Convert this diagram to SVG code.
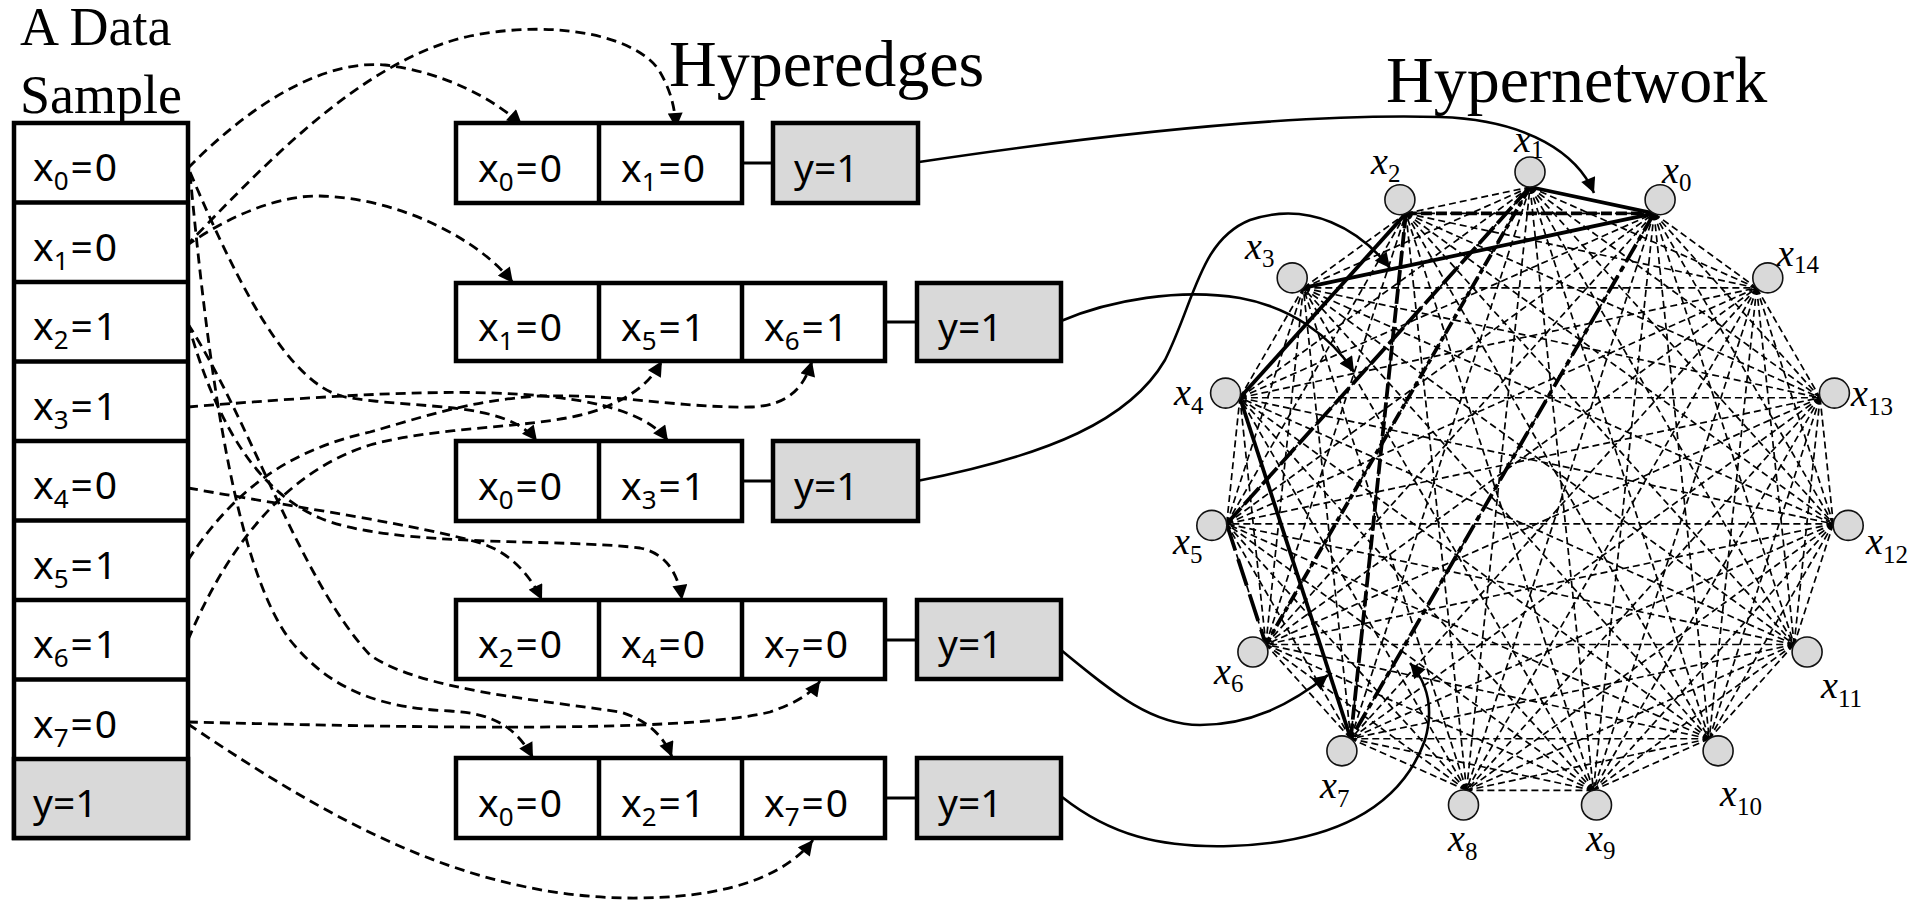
<svg xmlns="http://www.w3.org/2000/svg" xmlns:xlink="http://www.w3.org/1999/xlink" width="1923" height="902" viewBox="0 0 1923 902">
<style>
  .title { font-family: "Liberation Serif", "Times New Roman", serif; fill: #000; }
  .t { font-family: "Noto Sans", "Open Sans", sans-serif; font-size: 39px; fill: #000; }
  .s { font-size: 26px; }
  .box { fill: #fff; stroke: #000; stroke-width: 4.5; }
  .ybox { fill: #d9d9d9; stroke: #000; stroke-width: 4.5; }
  .div { stroke: #000; stroke-width: 4.5; fill: none; }
  .link { stroke: #000; stroke-width: 3; fill: none; }
  .dc { fill: none; stroke: #000; stroke-width: 2.8; stroke-dasharray: 10 6; marker-end: url(#ah); }
  .sc { fill: none; stroke: #000; stroke-width: 2.6; marker-end: url(#ahBig); }
  .edge { fill: none; stroke: #000; stroke-width: 1.7; stroke-dasharray: 7 4; }
  .hb { fill: none; stroke: #000; stroke-width: 3.8; }
  .e1 { stroke-dasharray: 11 4; }
  .e2 { stroke-dasharray: 15 4; }
  .e3 { stroke-dasharray: 20 5 6 5; }
  .b1 { stroke-dasharray: 22 5; }
  .b2 { stroke-dasharray: 13 4 5 4; }
  .b3 { stroke-dasharray: 28 9; }
  .node { fill: #d9d9d9; stroke: #111; stroke-width: 1.6; }
  .nl { font-family: "Liberation Serif", "Times New Roman", serif; font-style: italic; font-size: 38px; fill: #000; }
  .ns { font-style: normal; font-size: 25px; }
</style>
<defs>
  <marker id="ah" viewBox="0 0 10 10" refX="10" refY="5" markerWidth="16" markerHeight="15" markerUnits="userSpaceOnUse" orient="auto">
    <path d="M0,0 L10,5 L0,10 z" fill="#000"/>
  </marker>
  <marker id="ahBig" viewBox="0 0 10 10" refX="10" refY="5" markerWidth="21" markerHeight="15" markerUnits="userSpaceOnUse" orient="auto">
    <path d="M0,0 L10,5 L0,10 z" fill="#000"/>
  </marker>
  <!-- chords from the top vertex to the next seven vertices clockwise; rotated 15 times this covers every pair once -->
  <path id="fan" d="M1530,187 L1654.05,213.37 M1530,187 L1756.66,287.92 M1530,187 L1820.08,397.75 M1530,187 L1833.33,523.88 M1530,187 L1794.14,644.5 M1530,187 L1709.27,738.75 M1530,187 L1593.41,790.34"/>
</defs>

<rect width="1923" height="902" fill="#fff"/>

<!-- headings -->
<text class="title" x="20" y="45" font-size="54">A Data</text>
<text class="title" x="20" y="113" font-size="54">Sample</text>
<text class="title" x="669" y="86" font-size="66">Hyperedges</text>
<text class="title" x="1386" y="102" font-size="66">Hypernetwork</text>

<g id="connectors">
  <!-- complete graph of the hypernetwork -->
  <g id="network-edges" class="edge">
    <use xlink:href="#fan"/>
    <use xlink:href="#fan" transform="rotate(24 1530 492)"/>
    <use xlink:href="#fan" transform="rotate(48 1530 492)"/>
    <use xlink:href="#fan" transform="rotate(72 1530 492)"/>
    <use xlink:href="#fan" transform="rotate(96 1530 492)"/>
    <use xlink:href="#fan" transform="rotate(120 1530 492)"/>
    <use xlink:href="#fan" transform="rotate(144 1530 492)"/>
    <use xlink:href="#fan" transform="rotate(168 1530 492)"/>
    <use xlink:href="#fan" transform="rotate(192 1530 492)"/>
    <use xlink:href="#fan" transform="rotate(216 1530 492)"/>
    <use xlink:href="#fan" transform="rotate(240 1530 492)"/>
    <use xlink:href="#fan" transform="rotate(264 1530 492)"/>
    <use xlink:href="#fan" transform="rotate(288 1530 492)"/>
    <use xlink:href="#fan" transform="rotate(312 1530 492)"/>
    <use xlink:href="#fan" transform="rotate(336 1530 492)"/>
  </g>

  <!-- hyperedges drawn inside the network -->
  <g id="hyperedge-lines">
    <path class="hb" d="M1530,187 L1654.05,213.37"/>
    <path class="hb" d="M1654.05,213.37 L1303.34,287.92"/>
    <path class="hb" d="M1405.95,213.37 L1239.92,397.75"/>
    <path class="hb" d="M1239.92,397.75 L1350.73,738.75"/>
    <path class="hb e1" d="M1405.95,213.37 L1654.05,213.37"/>
    <path class="hb e2" d="M1405.95,213.37 L1350.73,738.75"/>
    <path class="hb e3" d="M1654.05,213.37 L1350.73,738.75"/>
    <path class="hb b1" d="M1530,187 L1226.67,523.88"/>
    <path class="hb b2" d="M1530,187 L1265.86,644.5"/>
    <path class="hb b3" d="M1226.67,523.88 L1265.86,644.5"/>
  </g>

  <!-- sample values copied into hyperedges -->
  <g id="sampling">
    <circle cx="186" cy="246" r="3" fill="#000"/>
    <path class="dc" d="M188,168 C260,95 330,60 385,65 C445,72 495,100 522,125"/>
    <path class="dc" d="M186,246 C260,170 360,60 470,36 C560,18 640,38 660,72 C672,93 675,110 676,128"/>
    <path class="dc" d="M186,246 C230,215 280,195 320,196 C400,198 480,240 513,283"/>
    <path class="dc" d="M190,172 C240,290 290,385 345,397 C420,410 505,400 537,441"/>
    <path class="dc" d="M188,407 C400,390 620,375 668,441"/>
    <path class="dc" d="M188,560 C240,480 300,448 370,432 C420,418 470,400 540,396 C620,394 680,408 750,407 C790,406 805,385 812,361"/>
    <path class="dc" d="M188,640 C230,540 290,470 370,445 C450,423 560,430 610,405 C640,392 652,378 662,361"/>
    <path class="dc" d="M188,488 C300,508 420,525 480,543 C510,552 530,575 542,600"/>
    <path class="dc" d="M188,323 C215,420 255,490 320,518 C390,548 560,538 640,548 C665,553 678,572 682,600"/>
    <path class="dc" d="M190,174 C205,330 230,560 290,640 C330,690 380,708 450,711 C490,713 515,725 533,758"/>
    <path class="dc" d="M188,324 C250,420 300,580 370,655 C420,690 540,700 620,712 C648,720 664,737 672,757"/>
    <path class="dc" d="M188,722 C400,727 680,734 770,712 C795,703 810,695 820,681"/>
    <path class="dc" d="M188,724 C330,820 470,900 640,898 C740,897 790,870 813,840"/>
  </g>

  <!-- hyperedges mapped onto the network -->
  <g id="mapping">
    <path class="sc" d="M919,162 C1100,135 1300,113 1440,117 C1530,120 1578,155 1594,193"/>
    <path class="sc" d="M1061,321 C1110,300 1180,288 1240,298 C1290,307 1330,335 1354,372"/>
    <path class="sc" d="M917,481 C1050,455 1130,420 1165,360 C1195,300 1200,240 1250,220 C1310,200 1360,230 1390,268"/>
    <path class="sc" d="M1061,650 C1110,690 1150,725 1200,725 C1250,725 1290,705 1328,675"/>
    <path class="sc" d="M1062,797 C1110,835 1160,848 1230,846 C1330,843 1400,810 1425,740 C1435,705 1425,680 1410,663"/>
  </g>
</g>

<!-- data sample column -->
<g id="sample">
  <rect class="box" x="14" y="123" width="174" height="715"/>
  <rect class="ybox" x="14" y="759" width="174" height="79"/>
  <path class="div" d="M14,202.5 H188 M14,282 H188 M14,361.5 H188 M14,441 H188 M14,520.5 H188 M14,600 H188 M14,679.5 H188"/>
  <text class="t" x="33" y="181">x<tspan class="s" dy="9">0</tspan><tspan dy="-9" dx="2">=</tspan><tspan dx="2">0</tspan></text>
  <text class="t" x="33" y="261">x<tspan class="s" dy="9">1</tspan><tspan dy="-9" dx="2">=</tspan><tspan dx="2">0</tspan></text>
  <text class="t" x="33" y="340">x<tspan class="s" dy="9">2</tspan><tspan dy="-9" dx="2">=</tspan><tspan dx="2">1</tspan></text>
  <text class="t" x="33" y="420">x<tspan class="s" dy="9">3</tspan><tspan dy="-9" dx="2">=</tspan><tspan dx="2">1</tspan></text>
  <text class="t" x="33" y="499">x<tspan class="s" dy="9">4</tspan><tspan dy="-9" dx="2">=</tspan><tspan dx="2">0</tspan></text>
  <text class="t" x="33" y="579">x<tspan class="s" dy="9">5</tspan><tspan dy="-9" dx="2">=</tspan><tspan dx="2">1</tspan></text>
  <text class="t" x="33" y="658">x<tspan class="s" dy="9">6</tspan><tspan dy="-9" dx="2">=</tspan><tspan dx="2">1</tspan></text>
  <text class="t" x="33" y="738">x<tspan class="s" dy="9">7</tspan><tspan dy="-9" dx="2">=</tspan><tspan dx="2">0</tspan></text>
  <text class="t" x="33" y="817">y=1</text>
</g>

<!-- hyperedge A: x0, x1 -->
<g id="hyperedge-a">
  <rect class="box" x="456" y="123" width="286" height="80"/>
  <path class="div" d="M599,123 V203"/>
  <path class="link" d="M742,163 H773"/>
  <rect class="ybox" x="773" y="123" width="145" height="80"/>
  <text class="t" x="478" y="181.5">x<tspan class="s" dy="9">0</tspan><tspan dy="-9" dx="2">=</tspan><tspan dx="2">0</tspan></text>
  <text class="t" x="621" y="181.5">x<tspan class="s" dy="9">1</tspan><tspan dy="-9" dx="2">=</tspan><tspan dx="2">0</tspan></text>
  <text class="t" x="794" y="181.5">y=1</text>
</g>

<!-- hyperedge B: x1, x5, x6 -->
<g id="hyperedge-b">
  <rect class="box" x="456" y="283" width="429" height="78"/>
  <path class="div" d="M599,283 V361 M742,283 V361"/>
  <path class="link" d="M885,322 H917"/>
  <rect class="ybox" x="917" y="283" width="144" height="78"/>
  <text class="t" x="478" y="340.5">x<tspan class="s" dy="9">1</tspan><tspan dy="-9" dx="2">=</tspan><tspan dx="2">0</tspan></text>
  <text class="t" x="621" y="340.5">x<tspan class="s" dy="9">5</tspan><tspan dy="-9" dx="2">=</tspan><tspan dx="2">1</tspan></text>
  <text class="t" x="764" y="340.5">x<tspan class="s" dy="9">6</tspan><tspan dy="-9" dx="2">=</tspan><tspan dx="2">1</tspan></text>
  <text class="t" x="938" y="340.5">y=1</text>
</g>

<!-- hyperedge C: x0, x3 -->
<g id="hyperedge-c">
  <rect class="box" x="456" y="441" width="286" height="80"/>
  <path class="div" d="M599,441 V521"/>
  <path class="link" d="M742,481 H773"/>
  <rect class="ybox" x="773" y="441" width="145" height="80"/>
  <text class="t" x="478" y="499.5">x<tspan class="s" dy="9">0</tspan><tspan dy="-9" dx="2">=</tspan><tspan dx="2">0</tspan></text>
  <text class="t" x="621" y="499.5">x<tspan class="s" dy="9">3</tspan><tspan dy="-9" dx="2">=</tspan><tspan dx="2">1</tspan></text>
  <text class="t" x="794" y="499.5">y=1</text>
</g>

<!-- hyperedge D: x2, x4, x7 -->
<g id="hyperedge-d">
  <rect class="box" x="456" y="600" width="429" height="79"/>
  <path class="div" d="M599,600 V679 M742,600 V679"/>
  <path class="link" d="M885,640 H917"/>
  <rect class="ybox" x="917" y="600" width="144" height="79"/>
  <text class="t" x="478" y="658">x<tspan class="s" dy="9">2</tspan><tspan dy="-9" dx="2">=</tspan><tspan dx="2">0</tspan></text>
  <text class="t" x="621" y="658">x<tspan class="s" dy="9">4</tspan><tspan dy="-9" dx="2">=</tspan><tspan dx="2">0</tspan></text>
  <text class="t" x="764" y="658">x<tspan class="s" dy="9">7</tspan><tspan dy="-9" dx="2">=</tspan><tspan dx="2">0</tspan></text>
  <text class="t" x="938" y="658">y=1</text>
</g>

<!-- hyperedge E: x0, x2, x7 -->
<g id="hyperedge-e">
  <rect class="box" x="456" y="758" width="429" height="80"/>
  <path class="div" d="M599,758 V838 M742,758 V838"/>
  <path class="link" d="M885,798 H917"/>
  <rect class="ybox" x="917" y="758" width="144" height="80"/>
  <text class="t" x="478" y="816.5">x<tspan class="s" dy="9">0</tspan><tspan dy="-9" dx="2">=</tspan><tspan dx="2">0</tspan></text>
  <text class="t" x="621" y="816.5">x<tspan class="s" dy="9">2</tspan><tspan dy="-9" dx="2">=</tspan><tspan dx="2">1</tspan></text>
  <text class="t" x="764" y="816.5">x<tspan class="s" dy="9">7</tspan><tspan dy="-9" dx="2">=</tspan><tspan dx="2">0</tspan></text>
  <text class="t" x="938" y="816.5">y=1</text>
</g>

<!-- hypernetwork vertices -->
<g id="hn-x0"><circle class="node" cx="1660.1" cy="199.7" r="15"/><text class="nl" x="1662" y="183">x<tspan class="ns" dy="8">0</tspan></text></g>
<g id="hn-x1"><circle class="node" cx="1530" cy="172" r="15"/><text class="nl" x="1514" y="152">x<tspan class="ns" dy="6">1</tspan></text></g>
<g id="hn-x2"><circle class="node" cx="1399.9" cy="199.7" r="15"/><text class="nl" x="1371" y="174">x<tspan class="ns" dy="8">2</tspan></text></g>
<g id="hn-x3"><circle class="node" cx="1292.2" cy="277.9" r="15"/><text class="nl" x="1245" y="259">x<tspan class="ns" dy="8">3</tspan></text></g>
<g id="hn-x4"><circle class="node" cx="1225.6" cy="393.1" r="15"/><text class="nl" x="1174" y="405">x<tspan class="ns" dy="9">4</tspan></text></g>
<g id="hn-x5"><circle class="node" cx="1211.8" cy="525.4" r="15"/><text class="nl" x="1173" y="554">x<tspan class="ns" dy="9">5</tspan></text></g>
<g id="hn-x6"><circle class="node" cx="1252.9" cy="652" r="15"/><text class="nl" x="1214" y="684">x<tspan class="ns" dy="8">6</tspan></text></g>
<g id="hn-x7"><circle class="node" cx="1341.9" cy="750.9" r="15"/><text class="nl" x="1320" y="798">x<tspan class="ns" dy="9">7</tspan></text></g>
<g id="hn-x8"><circle class="node" cx="1463.5" cy="805" r="15"/><text class="nl" x="1448" y="851">x<tspan class="ns" dy="9">8</tspan></text></g>
<g id="hn-x9"><circle class="node" cx="1596.5" cy="805" r="15"/><text class="nl" x="1586" y="851">x<tspan class="ns" dy="8">9</tspan></text></g>
<g id="hn-x10"><circle class="node" cx="1718.1" cy="750.9" r="15"/><text class="nl" x="1720" y="806">x<tspan class="ns" dy="9">10</tspan></text></g>
<g id="hn-x11"><circle class="node" cx="1807.1" cy="652" r="15"/><text class="nl" x="1821" y="698">x<tspan class="ns" dy="9">11</tspan></text></g>
<g id="hn-x12"><circle class="node" cx="1848.2" cy="525.4" r="15"/><text class="nl" x="1866" y="554">x<tspan class="ns" dy="9">12</tspan></text></g>
<g id="hn-x13"><circle class="node" cx="1834.4" cy="393.1" r="15"/><text class="nl" x="1851" y="406">x<tspan class="ns" dy="9">13</tspan></text></g>
<g id="hn-x14"><circle class="node" cx="1767.8" cy="277.9" r="15"/><text class="nl" x="1777" y="266">x<tspan class="ns" dy="7">14</tspan></text></g>
</svg>
